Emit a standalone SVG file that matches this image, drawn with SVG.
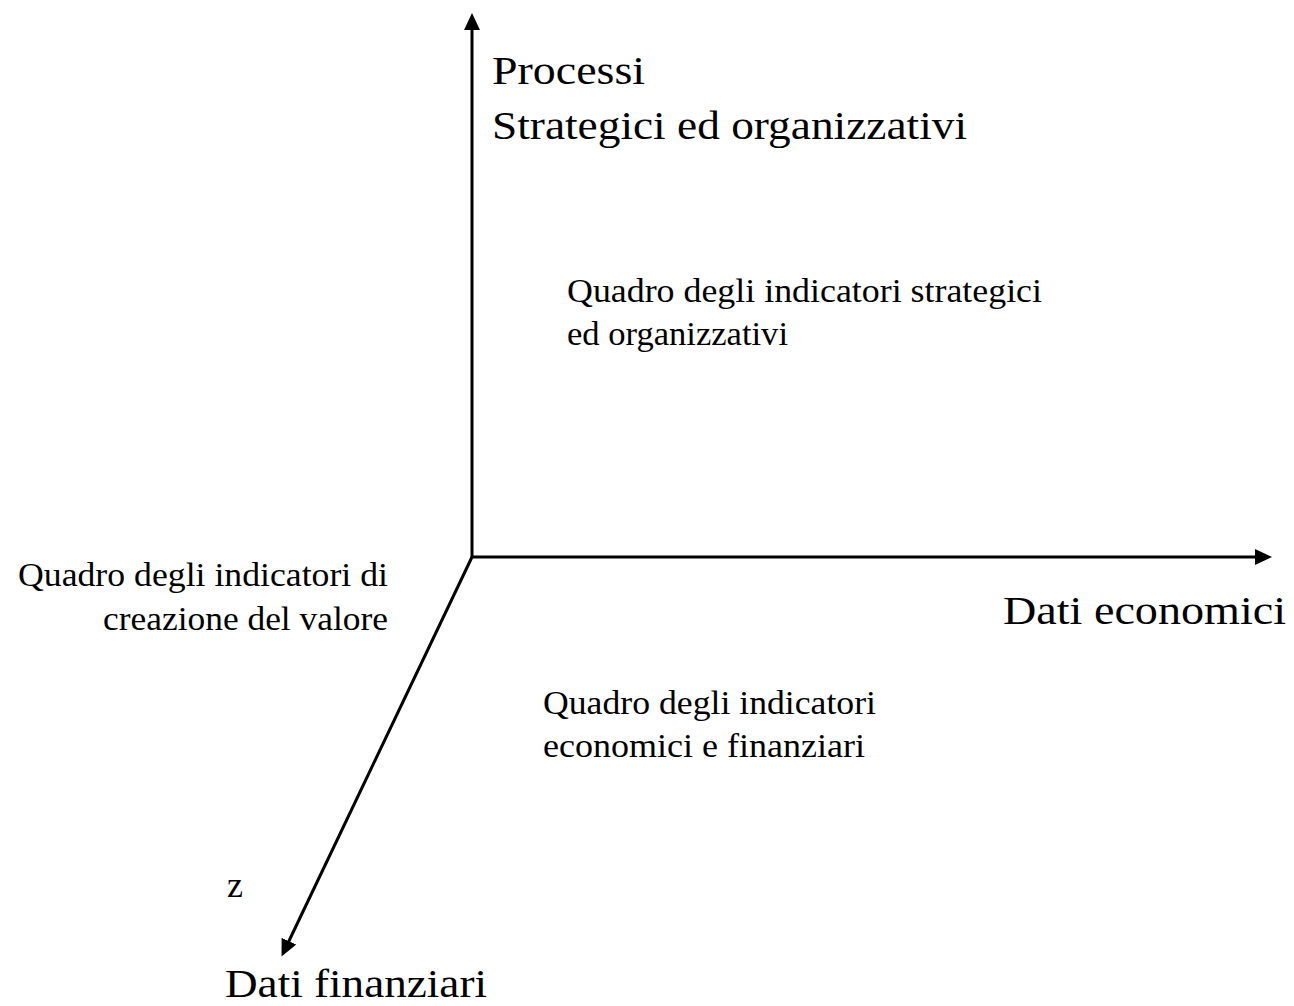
<svg xmlns="http://www.w3.org/2000/svg" width="1294" height="1006" viewBox="0 0 1294 1006">
<style>
.ax{stroke:#000;stroke-width:3;fill:none}
text{font-family:"Liberation Serif","Times New Roman",serif;fill:#000}
.big{font-size:41px}
.mid{font-size:33px}
</style>
<defs>
<marker id="ah" markerUnits="userSpaceOnUse" markerWidth="17" markerHeight="17" refX="2" refY="8" orient="auto" viewBox="0 0 17 16">
<path d="M0,0 L17,8 L0,16 z" fill="#000"/>
</marker>
</defs>
<rect width="1294" height="1006" fill="#fff"/>
<g id="connectors">
<line class="ax" x1="472" y1="557" x2="472" y2="28" marker-end="url(#ah)"/>
<line class="ax" x1="472" y1="557" x2="1257" y2="557" marker-end="url(#ah)"/>
<line class="ax" x1="472" y1="557" x2="288" y2="943" marker-end="url(#ah)"/>
</g>
<g id="axis-y">
<text class="big" x="492" y="84" textLength="153" lengthAdjust="spacingAndGlyphs">Processi</text>
<text class="big" x="492" y="139" textLength="475" lengthAdjust="spacingAndGlyphs">Strategici ed organizzativi</text>
</g>
<g id="axis-x">
<text class="big" x="1003" y="624" textLength="283" lengthAdjust="spacingAndGlyphs">Dati economici</text>
</g>
<g id="axis-z">
<text class="mid" x="227" y="897" style="font-size:36px">z</text>
<text class="big" x="225" y="997" textLength="262" lengthAdjust="spacingAndGlyphs">Dati finanziari</text>
</g>
<g id="quadro-strategici">
<text class="mid" x="567" y="302" textLength="475" lengthAdjust="spacingAndGlyphs">Quadro degli indicatori strategici</text>
<text class="mid" x="567" y="345" textLength="221" lengthAdjust="spacingAndGlyphs">ed organizzativi</text>
</g>
<g id="quadro-valore">
<text class="mid" x="18" y="586" textLength="370" lengthAdjust="spacingAndGlyphs">Quadro degli indicatori di</text>
<text class="mid" x="103" y="630" textLength="285" lengthAdjust="spacingAndGlyphs">creazione del valore</text>
</g>
<g id="quadro-economici">
<text class="mid" x="543" y="714" textLength="333" lengthAdjust="spacingAndGlyphs">Quadro degli indicatori</text>
<text class="mid" x="543" y="757" textLength="322" lengthAdjust="spacingAndGlyphs">economici e finanziari</text>
</g>
</svg>
